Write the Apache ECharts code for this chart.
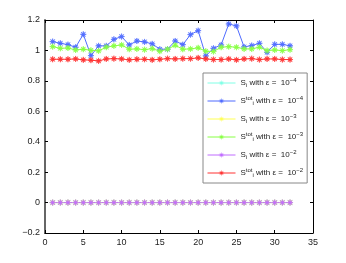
<!DOCTYPE html>
<html><head><meta charset="utf-8">
<script src="https://cdn.jsdelivr.net/npm/echarts@6/dist/echarts.min.js"></script>
<style>html,body{margin:0;padding:0;background:#fff}#c{width:346px;height:263px}</style>
</head><body><div id="c"></div>
<script>
var xs = [1,2,3,4,5,6,7,8,9,10,11,12,13,14,15,16,17,18,19,20,21,22,23,24,25,26,27,28,29,30,31,32];
var si4 = [0,0,0,0,0,0,0,0,0,0,0,0,0,0,0,0,0,0,0,0,0,0,0,0,0,0,0,0,0,0,0,0];
var stot4 = [1.058,1.047,1.038,1.021,1.106,0.966,1.030,1.030,1.073,1.091,1.036,1.062,1.056,1.043,1.008,1.008,1.062,1.038,1.104,1.130,0.964,1.014,1.036,1.174,1.161,1.023,1.032,1.047,0.988,1.040,1.040,1.030];
var si3 = [0,0,0,0,0,0,0,0,0,0,0,0,0,0,0,0,0,0,0,0,0,0,0,0,0,0,0,0,0,0,0,0];
var stot3 = [1.025,1.014,1.016,1.003,1.008,1.001,0.997,1.021,1.030,1.036,1.008,1.010,1.005,1.012,0.995,1.008,1.034,1.008,1.010,1.017,0.995,0.993,1.021,1.025,1.021,1.010,1.010,1.021,0.999,1.003,0.999,1.005];
var si2 = [0,0,0,0,0,0,0,0,0,0,0,0,0,0,0,0,0,0,0,0,0,0,0,0,0,0,0,0,0,0,0,0];
var stot2 = [0.942,0.942,0.942,0.944,0.938,0.936,0.931,0.944,0.946,0.944,0.938,0.942,0.942,0.938,0.942,0.946,0.944,0.946,0.946,0.951,0.944,0.940,0.940,0.944,0.938,0.944,0.946,0.940,0.944,0.944,0.940,0.940];
var xTicks = [0,5,10,15,20,25,30,35];
var yTicks = [-0.2,0,0.2,0.4,0.6,0.8,1,1.2];

var names = ['si4','stot4','si3','stot3','si2','stot2'];
var colors = ['#80ffe6','#4f6bff','#ffff55','#88ff44','#c06cff','#ff3333'];
var exps = ['−4','−4','−3','−3','−2','−2'];
var datas = [si4, stot4, si3, stot3, si2, stot2];
var star = 'path://M10,5 L6.48,5.61 L8.54,8.54 L5.61,6.48 L5,10 L4.39,6.48 L1.46,8.54 L3.52,5.61 L0,5 L3.52,4.39 L1.46,1.46 L4.39,3.52 L5,0 L5.61,3.52 L8.54,1.46 L6.48,4.39 Z';

var order = [0,2,1,3,5,4];
var series = [];
order.forEach(function(k){
  series.push({
    name: names[k], type: 'line',
    data: xs.map(function(x,i){ return [x, datas[k][i]]; }),
    symbol: star, symbolSize: 6,
    lineStyle: {color: colors[k], width: 1},
    itemStyle: {color: colors[k], borderColor: colors[k], borderWidth: 0.6},
    emphasis: {disabled: true},
    animation: false
  });
});

var chart = echarts.init(document.getElementById('c'), null, {renderer: 'canvas'});
var font = 'Liberation Sans, Arial, sans-serif';
var tick = {inside: true, length: 3, lineStyle: {color: '#000'}};
chart.setOption({
  animation: false,
  grid: {left: 45, right: 33, top: 20, bottom: 30},
  xAxis: [{
    type: 'value', min: 0, max: 35, interval: 5,
    axisLine: {onZero: false, lineStyle: {color: '#000', width: 1}},
    axisTick: tick,
    axisLabel: {color: '#222', fontSize: 9, fontFamily: font, margin: 5},
    splitLine: {show: false}
  },{
    type: 'value', min: 0, max: 35, interval: 5, position: 'top',
    axisLine: {onZero: false, lineStyle: {color: '#000', width: 1}},
    axisTick: tick,
    axisLabel: {show: false}, splitLine: {show: false}
  }],
  yAxis: [{
    type: 'value', min: -0.2, max: 1.2, interval: 0.2,
    axisLine: {show: true, onZero: false, lineStyle: {color: '#666', width: 2}},
    axisTick: {show: true, inside: true, length: 3, lineStyle: {color: '#000'}},
    axisLabel: {color: '#222', fontSize: 9, fontFamily: font, margin: 5,
      formatter: function(v){ var r = Math.round(v*10)/10; return String(r).replace('-', '−'); }},
    splitLine: {show: false}
  },{
    type: 'value', min: -0.2, max: 1.2, interval: 0.2, position: 'right',
    axisLine: {show: true, onZero: false, lineStyle: {color: '#000', width: 1}},
    axisTick: {show: true, inside: true, length: 3, lineStyle: {color: '#000'}},
    axisLabel: {show: false}, splitLine: {show: false}
  }],
  legend: {
    orient: 'vertical', left: 203, top: 73,
    data: names,
    backgroundColor: '#fff', borderColor: '#888', borderWidth: 1,
    padding: [4, 4, 4, 4], itemGap: 6, itemWidth: 28, itemHeight: 8,
    itemStyle: {borderWidth: 0},
    lineStyle: {width: 1},
    formatter: function(n){
      var k = names.indexOf(n);
      var tot = (k % 2 === 1);
      return '{s|S}' + (tot ? '{sup2|tot}' : '') + '{sub|i}{s| with ε =  10}{sup|' + exps[k] + '}';
    },
    textStyle: {
      fontFamily: font, fontSize: 8, color: '#222',
      rich: {
        s: {fontSize: 8, fontFamily: font, color: '#222', lineHeight: 14},
        sub: {fontSize: 6, fontFamily: font, color: '#222', padding: [5,0,0,0], lineHeight: 14},
        sup: {fontSize: 6, fontFamily: font, color: '#222', padding: [0,0,6,0], lineHeight: 14},
        sup2: {fontSize: 6, fontFamily: font, color: '#222', padding: [0,0,6,0], lineHeight: 14}
      }
    }
  },
  series: series
});
</script></body></html>
